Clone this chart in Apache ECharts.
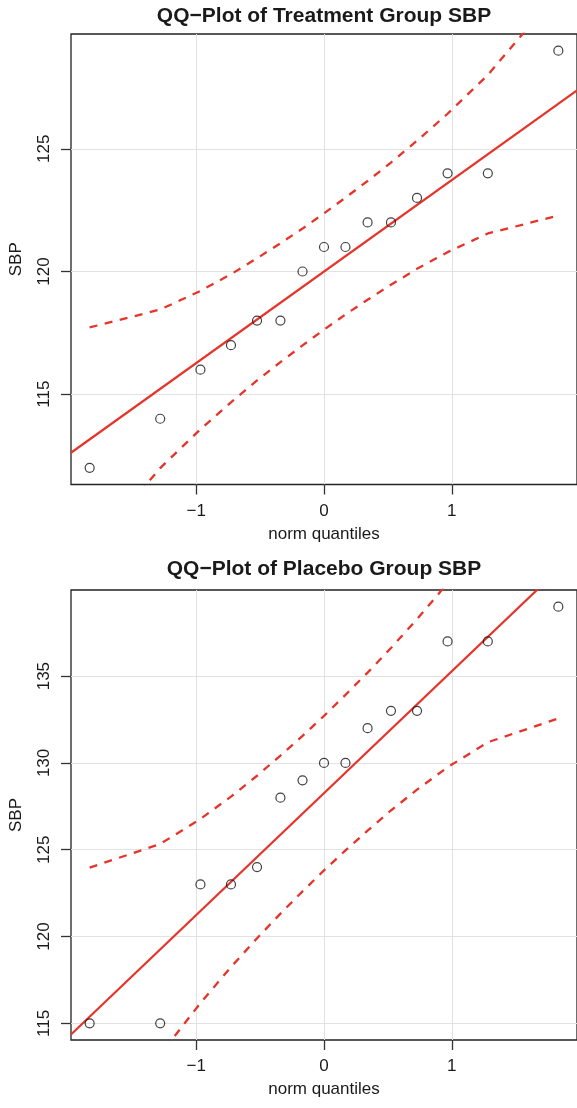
<!DOCTYPE html>
<html>
<head>
<meta charset="utf-8">
<script src="https://cdn.jsdelivr.net/npm/echarts@6/dist/echarts.min.js"></script>
<style>
  html, body { margin: 0; padding: 0; background: #fff; }
  #chart { width: 577px; height: 1108px; }
</style>
</head>
<body>
<div id="chart"></div>
<script>
// Theoretical normal quantiles for n = 15
const normQuantiles = [-1.834, -1.282, -0.967, -0.728, -0.524, -0.341, -0.168, 0, 0.168, 0.341, 0.524, 0.728, 0.967, 1.282, 1.834];

// Ordered systolic blood pressure readings
const treatmentSBP = [112, 114, 116, 117, 118, 118, 120, 121, 121, 122, 122, 123, 124, 124, 129];
const placeboSBP   = [115, 115, 123, 123, 124, 128, 129, 130, 130, 132, 133, 133, 137, 137, 139];

// Reference line (intercept, slope) for each group
const treatmentLine = [120.0, 3.73];
const placeboLine   = [128.26, 7.02];

// Pointwise confidence envelope
const treatmentUpper = [117.72, 118.45, 119.21, 119.89, 120.54, 121.15, 121.75, 122.37, 123.01, 123.69, 124.44, 125.33, 126.43, 128.01, 131.40];
const treatmentLower = [108.60, 111.99, 113.57, 114.67, 115.56, 116.31, 116.99, 117.63, 118.25, 118.85, 119.46, 120.11, 120.79, 121.55, 122.28];
const placeboUpper   = [123.97, 125.33, 126.77, 128.06, 129.26, 130.42, 131.56, 132.71, 133.92, 135.20, 136.62, 138.28, 140.35, 143.33, 149.72];
const placeboLower   = [106.81, 113.19, 116.17, 118.24, 119.90, 121.32, 122.60, 123.81, 124.96, 126.10, 127.26, 128.46, 129.75, 131.19, 132.56];

// Tick labels
const xTicks = [-1, 0, 1];
const treatmentYTicks = [115, 120, 125];
const placeboYTicks = [115, 120, 125, 130, 135];

const titles = ['QQ\u2212Plot of Treatment Group SBP', 'QQ\u2212Plot of Placebo Group SBP'];

const X_MIN = -1.98, X_MAX = 1.98;
const RED = '#e5352b';
const INK = '#1a1a1a';
const FONT = '"Liberation Sans", Arial, Helvetica, sans-serif';

const chart = echarts.init(document.getElementById('chart'), null, { renderer: 'canvas' });

function fmt(v) { return v < 0 ? '\u2212' + Math.abs(v) : String(v); }
function pairs(xs, ys) { return xs.map((x, i) => [x, ys[i]]); }
function refLine(p) { return [[X_MIN, p[0] + p[1] * X_MIN], [X_MAX, p[0] + p[1] * X_MAX]]; }

const panels = [
  { top: 34, height: 450.5, yMin: 111.32, yMax: 129.68, yTicks: treatmentYTicks,
    obs: treatmentSBP, line: treatmentLine, upper: treatmentUpper, lower: treatmentLower, titleTop: 6 },
  { top: 590, height: 450, yMin: 114.04, yMax: 139.96, yTicks: placeboYTicks,
    obs: placeboSBP, line: placeboLine, upper: placeboUpper, lower: placeboLower, titleTop: 559 }
];

const option = {
  backgroundColor: '#ffffff',
  animation: false,
  title: panels.map((p, i) => ({
    text: titles[i],
    left: 324,
    top: p.titleTop,
    textAlign: 'center',
    padding: 0,
    textStyle: { fontFamily: FONT, fontSize: 21, fontWeight: 'bold', color: INK }
  })),
  grid: panels.map(p => ({
    left: 67, top: p.top, width: 514, height: p.height,
    show: true, borderColor: '#222', borderWidth: 1.3, backgroundColor: 'transparent',
    containLabel: false
  })),
  xAxis: panels.map((p, i) => ({
    type: 'value', gridIndex: i, min: X_MIN, max: X_MAX,
    name: 'norm quantiles', nameLocation: 'middle', nameGap: 41,
    nameTextStyle: { fontFamily: FONT, fontSize: 17, color: INK, verticalAlign: 'top' },
    axisLine: { show: false, onZero: false },
    axisTick: { show: true, length: 10, customValues: xTicks, lineStyle: { color: '#333', width: 1.3 } },
    axisLabel: { customValues: xTicks, formatter: fmt, margin: 18,
      fontFamily: FONT, fontSize: 17, color: INK },
    splitLine: { show: true, lineStyle: { color: '#e2e2e2', width: 1 } }
  })),
  yAxis: panels.map((p, i) => ({
    type: 'value', gridIndex: i, min: p.yMin, max: p.yMax,
    name: 'SBP', nameLocation: 'middle', nameGap: 46, nameRotate: 90,
    nameTextStyle: { fontFamily: FONT, fontSize: 17, color: INK },
    axisLine: { show: false, onZero: false },
    axisTick: { show: true, length: 10, customValues: p.yTicks, lineStyle: { color: '#333', width: 1.3 } },
    axisLabel: { customValues: p.yTicks, rotate: 90, margin: 18,
      fontFamily: FONT, fontSize: 17, color: INK },
    splitLine: { show: true, lineStyle: { color: '#e2e2e2', width: 1 } }
  })),
  series: []
};

panels.forEach((p, i) => {
  option.series.push({
    type: 'line', xAxisIndex: i, yAxisIndex: i, data: refLine(p.line),
    symbol: 'none', lineStyle: { color: RED, width: 2.2 }, z: 3
  });
  [p.upper, p.lower].forEach(env => {
    option.series.push({
      type: 'line', xAxisIndex: i, yAxisIndex: i, data: pairs(normQuantiles, env),
      symbol: 'none', clip: true,
      lineStyle: { color: RED, width: 2.3, type: [8, 7.5] }, z: 3
    });
  });
  option.series.push({
    type: 'scatter', xAxisIndex: i, yAxisIndex: i, data: pairs(normQuantiles, p.obs),
    symbol: 'circle', symbolSize: 9,
    itemStyle: { color: 'rgba(255,255,255,0)', borderColor: '#111', borderWidth: 1.2 }, z: 4
  });
});

chart.setOption(option);
</script>
</body>
</html>
